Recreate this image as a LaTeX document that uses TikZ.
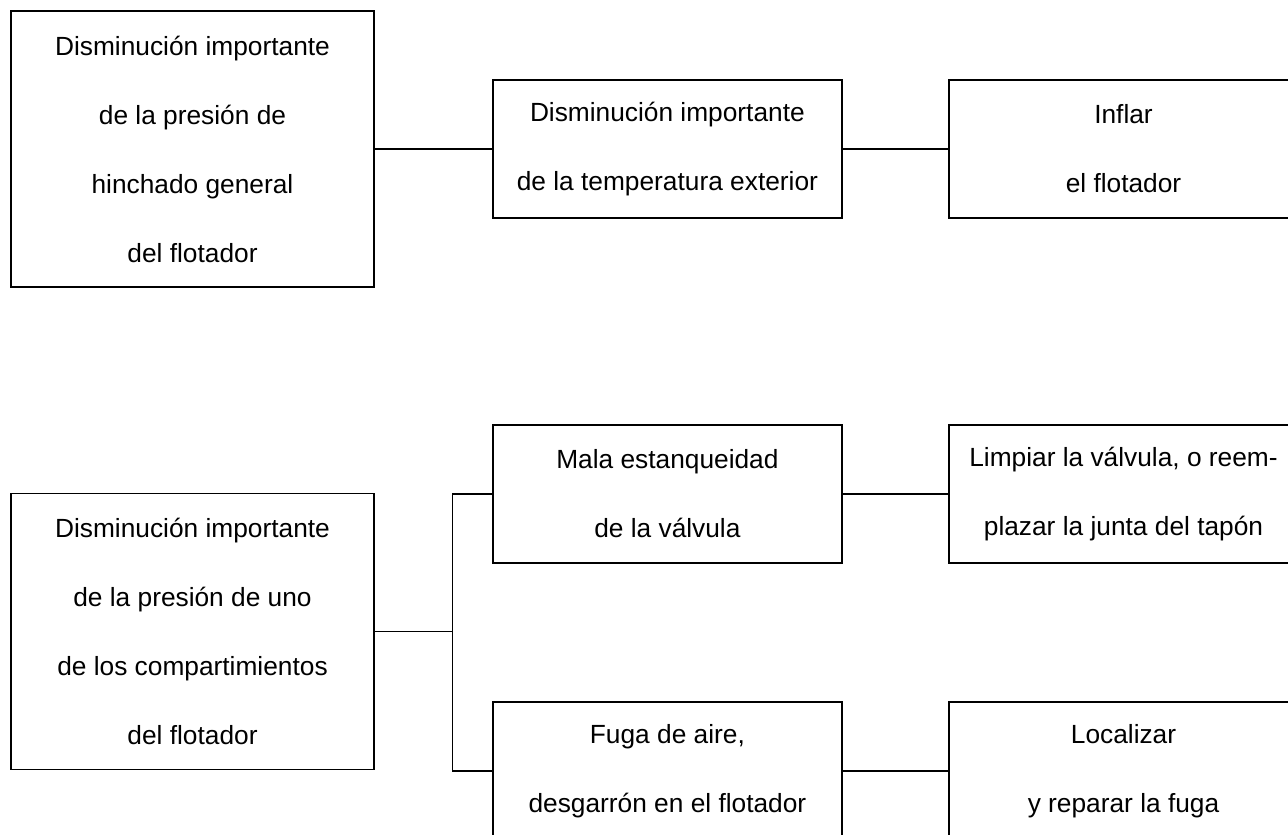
\documentclass[tikz,border=0pt]{standalone}
\usepackage{fontspec}
\setmainfont{Liberation Sans}

\begin{document}
\begin{tikzpicture}[x=0.5pt, y=-0.5pt,
  box/.style={draw, line width=0.7pt, align=center, inner sep=0pt,
    font=\fontsize{13.15}{34.5}\selectfont},
  bigbox/.style={box, minimum width=181.5pt, minimum height=138pt},
  smallbox/.style={box, minimum width=174.5pt, minimum height=69pt},
  link/.style={line width=0.7pt}]
\useasboundingbox (0,0) rectangle (1288,834);

% Top row: general pressure loss
\node[bigbox] (presgen) at (192.5,149) {Disminución importante\\de la presión de\\hinchado general\\del flotador};
\node[smallbox] (tempext) at (667.4,149) {Disminución importante\\de la temperatura exterior};
\node[smallbox] (inflar) at (1123.5,149) {Inflar\\el flotador};

% Bottom rows: one compartment
\node[bigbox] (prescomp) at (192.5,631.5) {Disminución importante\\de la presión de uno\\de los compartimientos\\del flotador};
\node[smallbox] (valvula) at (667.4,494) {Mala estanqueidad\\de la válvula};
\node[smallbox] (limpiar) at (1123.5,494) {Limpiar la válvula, o reem-\\plazar la junta del tapón};
\node[smallbox] (fuga) at (667.4,771) {Fuga de aire,\\desgarrón en el flotador};
\node[smallbox] (reparar) at (1123.5,771) {Localizar\\y reparar la fuga};

% Connectors
\draw[link] (presgen) -- (tempext);
\draw[link] (tempext) -- (inflar);
\coordinate (junc) at (452.7,631.5);
\draw[link] (prescomp.east) -- (junc);
\draw[link] (valvula.west) -| (junc) |- (fuga.west);
\draw[link] (valvula) -- (limpiar);
\draw[link] (fuga) -- (reparar);
\end{tikzpicture}
\end{document}
